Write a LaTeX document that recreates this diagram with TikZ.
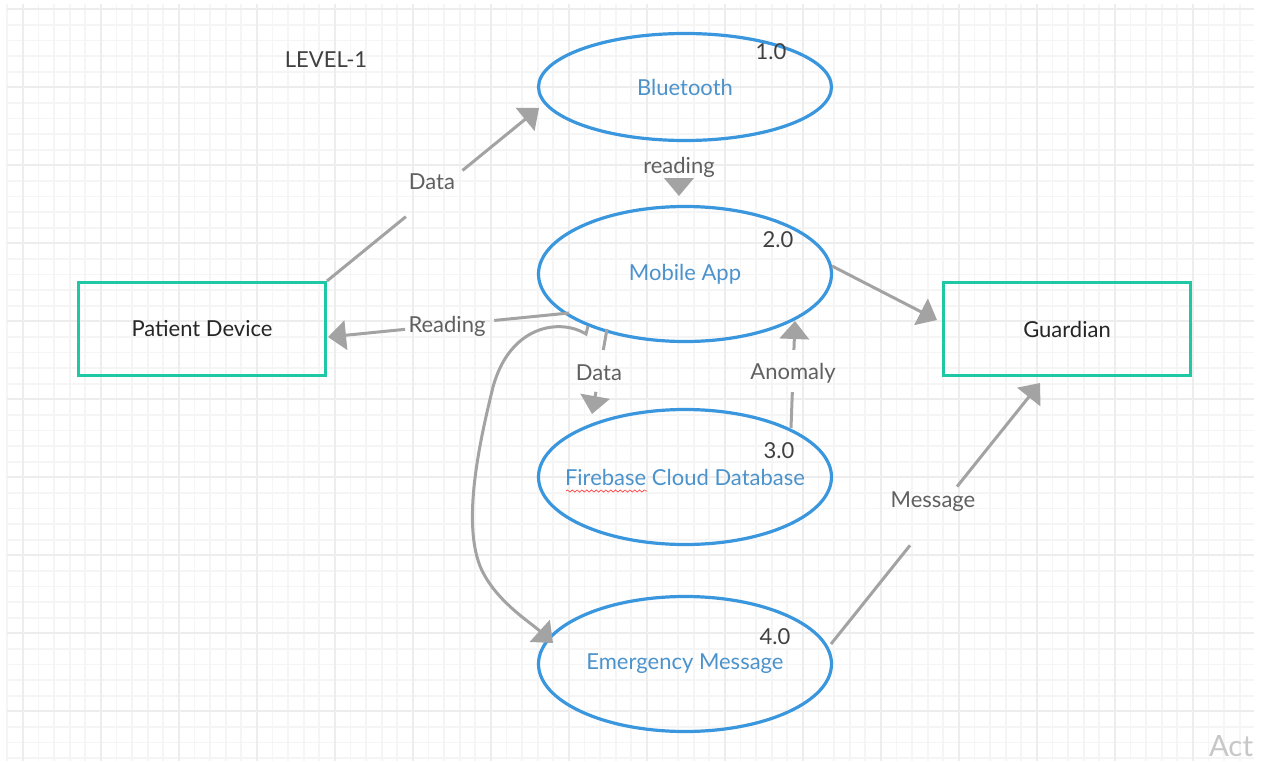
\documentclass[tikz,border=0pt]{standalone}
\usepackage{fontspec}
\setmainfont{Lato}
\usetikzlibrary{arrows.meta,calc,shapes.geometric,decorations.pathmorphing}

\definecolor{procblue}{HTML}{3A97DD}
\definecolor{proctext}{HTML}{4C93CC}
\definecolor{entteal}{HTML}{1EC8A5}
\definecolor{flowgray}{HTML}{A3A3A3}
\definecolor{flowtext}{HTML}{606060}
\definecolor{numtext}{HTML}{404040}
\definecolor{gridminor}{HTML}{F5F5F5}
\definecolor{gridmajor}{HTML}{EDEDED}

% centred text that does not widen the ellipse around it
\newcommand\proclabel[1]{\makebox[0pt]{#1}}

\begin{document}
\begin{tikzpicture}[x=0.75pt,y=-0.75pt,
  basefont/.style={font=\fontsize{16.5pt}{19pt}\selectfont},
  process/.style={ellipse, draw=procblue, line width=2.4pt,
    minimum width=219.75pt, minimum height=101.25pt, inner sep=0pt,
    text=proctext, basefont},
  entity/.style={rectangle, draw=entteal, line width=2.25pt,
    minimum width=185.25pt, minimum height=69.75pt, inner sep=0pt,
    text=black!85, basefont},
  procnum/.style={text=numtext, basefont, inner sep=0pt},
  flowlabel/.style={text=flowtext, basefont, inner sep=0pt},
  flow/.style={draw=flowgray, line width=2.25pt},
  flowarrow/.style={-{Triangle[length=13.5pt,width=22pt]}},
  gridline/.style={line width=1.4pt},
]

% page and background grid
\fill[white] (0,0) rectangle (1261,761);
\useasboundingbox (0,0) rectangle (1261,761);
\foreach \i in {0,...,79}
  \draw[gridminor, gridline] (7.3+15.6*\i,4) -- (7.3+15.6*\i,761);
\foreach \j in {0,...,48}
  \draw[gridminor, gridline] (7.3,9.3+15.6*\j) -- (1254,9.3+15.6*\j);
\foreach \i in {1,6,...,76}
  \draw[gridmajor, gridline] (7.3+15.6*\i,4) -- (7.3+15.6*\i,761);
\foreach \j in {0,5,...,45}
  \draw[gridmajor, gridline] (7.3,9.3+15.6*\j) -- (1254,9.3+15.6*\j);

% title
\node[procnum] (title) at (326,60) {LEVEL-1};

% processes
\node[process, minimum height=80.25pt] (BT) at (685,87) {\proclabel{Bluetooth}};
\node[process] (MA) at (685,274) {\proclabel{Mobile App}};
\node[process] (FB) at (685,477) {\proclabel{Firebase Cloud Database}};
\node[process] (EM) at (685,664) {\proclabel{Emergency Message}};

\node[procnum] (n1) at (771,52) {1.0};
\node[procnum] (n2) at (778,240) {2.0};
\node[procnum] (n3) at (779,451) {3.0};
\node[procnum] (n4) at (775,637) {4.0};

% spell-check mark under the database name
\draw[red!75, line width=0.5pt, decorate,
      decoration={snake, amplitude=0.8pt, segment length=3.6pt}]
  ([shift={(-119,14)}]FB.center) -- ([shift={(-38,14)}]FB.center);

% external entities
\node[entity] (PD) at (202,329) {Patient Device};
\node[entity] (G) at (1067,329) {Guardian};

% attachment points
\coordinate (btIn)   at ([shift={(-146,21)}]BT.center);
\coordinate (btOut)  at ([shift={(-6,91)}]BT.center);
\coordinate (maTop)  at ([shift={(-6,-78)}]MA.center);
\coordinate (maRight) at ([shift={(147,-8)}]MA.center);
\coordinate (maRd)   at ([shift={(-116,39)}]MA.center);
\coordinate (maDat)  at ([shift={(-78,55)}]MA.center);
\coordinate (maAn)   at ([shift={(110,47)}]MA.center);
\coordinate (maCv)   at ([shift={(-97,52)}]MA.center);
\coordinate (maCv2)  at ([shift={(-99,60)}]MA.center);
\coordinate (fbIn)   at ([shift={(-93,-63)}]FB.center);
\coordinate (fbOut)  at ([shift={(106,-49)}]FB.center);
\coordinate (emIn)   at ([shift={(-132,-21)}]EM.center);
\coordinate (emOut)  at ([shift={(146,-20)}]EM.center);
\coordinate (gLeft)  at ([shift={(-130,-9)}]G.center);
\coordinate (gBot)   at ([shift={(-27,54)}]G.center);
\coordinate (pdIn)   at ([shift={(126,8)}]PD.center);

% Data: patient device -> bluetooth
\draw[flow] (PD.north east) -- ($(PD.north east)!0.372!(btIn)$);
\draw[flow,flowarrow] ($(PD.north east)!0.639!(btIn)$) -- (btIn);
\node[flowlabel] (lData) at (432,182) {Data};

% reading: bluetooth -> mobile app
\draw[flow,flowarrow] (btOut) -- (maTop);
\node[flowlabel] (lReading) at (679,167) {reading};

% mobile app -> guardian
\draw[flow,flowarrow] (maRight) -- (gLeft);

% Reading: mobile app -> patient device
\draw[flow] (maRd) -- ($(maRd)!0.31!(pdIn)$);
\draw[flow,flowarrow] ($(maRd)!0.68!(pdIn)$) -- (pdIn);
\node[flowlabel] (lReading2) at (447,326) {Reading};

% Data: mobile app -> database
\draw[flow] (maDat) -- ($(maDat)!0.247!(fbIn)$);
\draw[flow,flowarrow] ($(maDat)!0.74!(fbIn)$) -- (fbIn);
\node[flowlabel] (lData2) at (599,373) {Data};

% Anomaly: database -> mobile app
\draw[flow] (fbOut) -- ($(fbOut)!0.336!(maAn)$);
\draw[flow,flowarrow] ($(fbOut)!0.73!(maAn)$) -- (maAn);
\node[flowlabel] (lAnomaly) at (793,373) {Anomaly};

% mobile app -> emergency message
\draw[flow,flowarrow] (maCv) -- (maCv2)
  .. controls (560,318) and (510,325) .. (493,387)
  .. controls (480,440) and (462,520) .. (480,566)
  .. controls (494,600) and (530,622) .. (emIn);

% Message: emergency message -> guardian
\draw[flow] (emOut) -- ($(emOut)!0.378!(gBot)$);
\draw[flow,flowarrow] ($(emOut)!0.603!(gBot)$) -- (gBot);
\node[flowlabel] (lMessage) at (933,502) {Message};

% watermark fragment in the corner
\node[text=black!22, font=\fontsize{22pt}{24pt}\selectfont, inner sep=0pt] (act) at (1231,746) {Act};

\end{tikzpicture}
\end{document}
